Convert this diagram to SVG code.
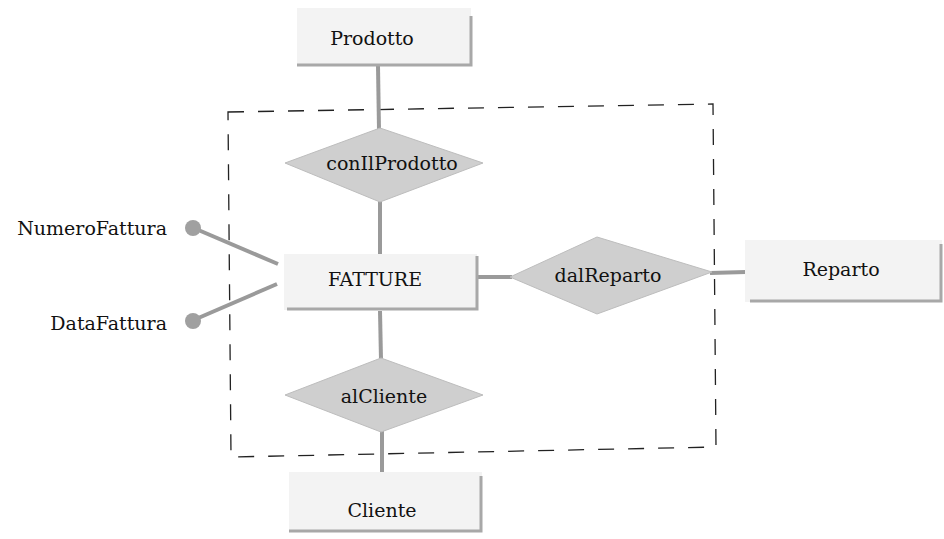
<svg xmlns="http://www.w3.org/2000/svg" width="944" height="539" viewBox="0 0 944 539">
<style>
text{font-family:"DejaVu Serif","Liberation Serif",serif;font-size:19px;fill:#111;}
.box{fill:#f3f3f3;}
.shadow{fill:none;stroke:#a8a8a8;stroke-width:3;}
.rel{fill:#cfcfcf;stroke:#bdbdbd;stroke-width:1;}
.conn{stroke:#9a9a9a;stroke-width:4;fill:none;}
.attr{fill:#a0a0a0;}
.frame{fill:none;stroke:#222;stroke-width:1.3;stroke-dasharray:16 14;}
</style>
<rect width="944" height="539" fill="#fff"/>
<g id="frame"><polygon class="frame" points="228,112 713,104 716,447 231,457"/></g>
<g id="connectors">
<line class="conn" x1="378" y1="66" x2="379" y2="130"/>
<line class="conn" x1="380" y1="200" x2="380" y2="256"/>
<line class="conn" x1="380" y1="311" x2="381" y2="360"/>
<line class="conn" x1="382" y1="430" x2="382" y2="481"/>
<line class="conn" x1="478" y1="277" x2="512" y2="277"/>
<line class="conn" x1="710" y1="273" x2="746" y2="272"/>
<line class="conn" x1="196" y1="229" x2="278" y2="264"/>
<line class="conn" x1="196" y1="319" x2="277" y2="284"/>
</g>
<g id="Prodotto"><rect class="box" x="297" y="8" width="174" height="57"/><polyline class="shadow" points="471,16 471,65 297,65"/><text x="372" y="45" text-anchor="middle">Prodotto</text></g>
<g id="FATTURE"><rect class="box" x="284" y="254" width="193" height="56"/><polyline class="shadow" points="477,256 477,309 287,309"/><text x="375" y="286" text-anchor="middle">FATTURE</text></g>
<g id="Reparto"><rect class="box" x="745" y="240" width="197" height="62"/><polyline class="shadow" points="941,244 941,301 750,301"/><text x="841" y="276" text-anchor="middle">Reparto</text></g>
<g id="Cliente"><rect class="box" x="289" y="472" width="193" height="60"/><polyline class="shadow" points="481,476 481,531 289,531"/><text x="382" y="517" text-anchor="middle">Cliente</text></g>
<g id="conIlProdotto"><polygon class="rel" points="285,163 380,128 483,163 380,202"/><text x="392" y="170" text-anchor="middle">conIlProdotto</text></g>
<g id="dalReparto"><polygon class="rel" points="510,277 597,237 712,272 597,314"/><text x="608" y="282" text-anchor="middle">dalReparto</text></g>
<g id="alCliente"><polygon class="rel" points="285,395 381,358 483,395 381,432"/><text x="384" y="403" text-anchor="middle">alCliente</text></g>
<g id="NumeroFattura"><circle class="attr" cx="193" cy="228" r="8"/><text x="167" y="235" text-anchor="end">NumeroFattura</text></g>
<g id="DataFattura"><circle class="attr" cx="193" cy="321" r="8"/><text x="167" y="330" text-anchor="end">DataFattura</text></g>
</svg>
